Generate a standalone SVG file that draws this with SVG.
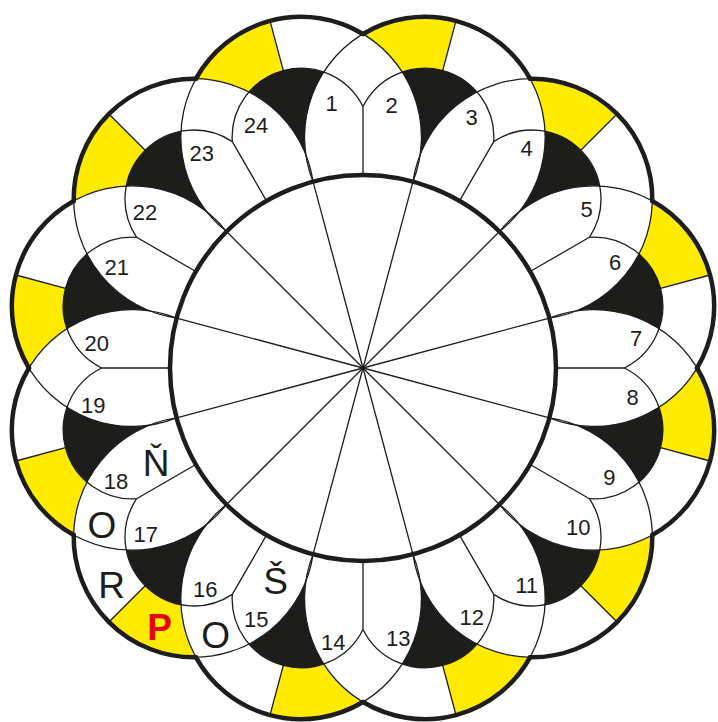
<svg xmlns="http://www.w3.org/2000/svg" width="718" height="722" viewBox="0 0 718 722">
<style>
.thin{fill:none;stroke:#1d1d1b;stroke-width:1.3}
.thick{fill:none;stroke:#1d1d1b;stroke-width:4.5;stroke-linecap:round}
.yel{fill:#ffeb00}
.blk{fill:#1d1d1b}
.num{font-family:"Liberation Sans",Arial,sans-serif;font-size:22px;fill:#1d1d1b;text-anchor:middle}
.let{font-family:"Liberation Sans",Arial,sans-serif;font-size:37px;fill:#1d1d1b;text-anchor:middle}
.red{font-family:"Liberation Sans",Arial,sans-serif;font-size:37px;font-weight:bold;fill:#e30613;text-anchor:middle}
</style>
<defs>
<g id="pf">
<path class="yel" d="M -86.46,-322.67 A 120.32 120.32 0 0 1 0,-359.32 L 0,-308 A 69 69 0 0 0 -38.70,-296.13 A 120.32 120.32 0 0 0 -86.46,-322.67 Z"/>
<path class="blk" d="M -38.70,-296.13 A 69 69 0 0 1 38.70,-296.13 A 120.32 120.32 0 0 0 0,-220.96 A 120.32 120.32 0 0 0 -38.70,-296.13 Z"/>
</g>
<path id="pl" class="thin" d="M -96.5,-167.14 A 120.32 120.32 0 1 1 96.5,-167.14 M -67.66,-252.51 A 69 69 0 0 1 67.66,-252.51 M 0,0 L 0,-193 M 0,-308 L 0,-359.32 M 49.95,-186.42 L 67.66,-252.51"/>
<path id="po" class="thick" d="M -86.46,-322.67 A 120.32 120.32 0 0 1 86.46,-322.67"/>
</defs>
<rect width="718" height="722" fill="#ffffff"/>
<g id="fills" transform="translate(363 368)">
<use href="#pf" transform="rotate(15)"/><use href="#pf" transform="rotate(45)"/><use href="#pf" transform="rotate(75)"/><use href="#pf" transform="rotate(105)"/><use href="#pf" transform="rotate(135)"/><use href="#pf" transform="rotate(165)"/><use href="#pf" transform="rotate(195)"/><use href="#pf" transform="rotate(225)"/><use href="#pf" transform="rotate(255)"/><use href="#pf" transform="rotate(285)"/><use href="#pf" transform="rotate(315)"/><use href="#pf" transform="rotate(345)"/>
</g>
<g id="connectors" transform="translate(363 368)">
<use href="#pl" transform="rotate(15)"/><use href="#pl" transform="rotate(45)"/><use href="#pl" transform="rotate(75)"/><use href="#pl" transform="rotate(105)"/><use href="#pl" transform="rotate(135)"/><use href="#pl" transform="rotate(165)"/><use href="#pl" transform="rotate(195)"/><use href="#pl" transform="rotate(225)"/><use href="#pl" transform="rotate(255)"/><use href="#pl" transform="rotate(285)"/><use href="#pl" transform="rotate(315)"/><use href="#pl" transform="rotate(345)"/>
</g>
<g id="outline" transform="translate(363 368)">
<use href="#po" transform="rotate(15)"/><use href="#po" transform="rotate(45)"/><use href="#po" transform="rotate(75)"/><use href="#po" transform="rotate(105)"/><use href="#po" transform="rotate(135)"/><use href="#po" transform="rotate(165)"/><use href="#po" transform="rotate(195)"/><use href="#po" transform="rotate(225)"/><use href="#po" transform="rotate(255)"/><use href="#po" transform="rotate(285)"/><use href="#po" transform="rotate(315)"/><use href="#po" transform="rotate(345)"/>
<circle id="inner" cx="0" cy="0" r="193" class="thick"/>
</g>
<g id="labels">
<text class="num" x="331.7" y="111.2">1</text>
<text class="num" x="391.7" y="112.9">2</text>
<text class="num" x="471.7" y="124.6">3</text>
<text class="num" x="526.7" y="156.2">4</text>
<text class="num" x="586.7" y="216.9">5</text>
<text class="num" x="615" y="269.6">6</text>
<text class="num" x="636" y="345.6">7</text>
<text class="num" x="632.7" y="405.2">8</text>
<text class="num" x="609.3" y="484.6">9</text>
<text class="num" x="578.3" y="534.6">10</text>
<text class="num" x="526.7" y="592.9">11</text>
<text class="num" x="471.7" y="624.6">12</text>
<text class="num" x="398.3" y="646.2">13</text>
<text class="num" x="333.3" y="649.6">14</text>
<text class="num" x="256.3" y="627.2">15</text>
<text class="num" x="205.3" y="596.9">16</text>
<text class="num" x="145.7" y="541.6">17</text>
<text class="num" x="116" y="488.6">18</text>
<text class="num" x="93.3" y="412.9">19</text>
<text class="num" x="96.7" y="351.2">20</text>
<text class="num" x="116.7" y="274.6">21</text>
<text class="num" x="145" y="219.6">22</text>
<text class="num" x="201.7" y="161.2">23</text>
<text class="num" x="256" y="132.9">24</text>
<text class="let" x="156" y="476">Ň</text>
<text class="let" x="102" y="538.2">O</text>
<text class="let" x="111.7" y="597.5">R</text>
<text class="red" x="159.7" y="640">P</text>
<text class="let" x="215.7" y="647.5">O</text>
<text class="let" x="275.7" y="594">Š</text>
</g>
</svg>
